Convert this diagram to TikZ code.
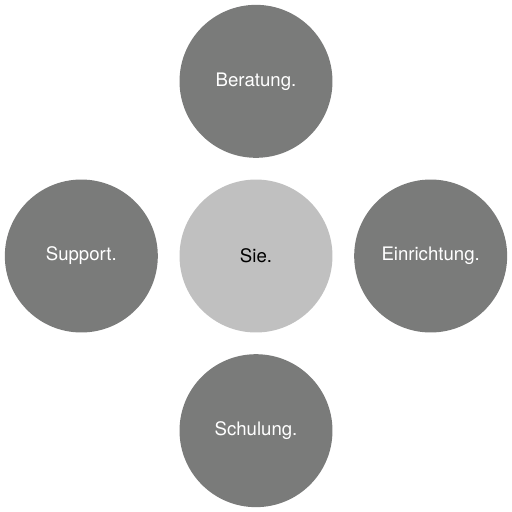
\documentclass[tikz,border=0pt]{standalone}
\usepackage{fontspec}
\setmainfont{TeX Gyre Heros}
\usepackage{tikz}
\usetikzlibrary{positioning}
\definecolor{ringgray}{HTML}{7A7B7A}
\definecolor{hubgray}{HTML}{C0C0C0}

\begin{document}
\begin{tikzpicture}[
    x=0.02cm, y=-0.02cm,
    font=\fontsize{10.6}{12}\selectfont,
    bubble/.style={circle, minimum size=3.06cm, inner sep=0pt, align=center},
    service/.style={bubble, fill=ringgray, text=white},
    hub/.style={bubble, fill=hubgray, text=black}
]
\useasboundingbox (0,0) rectangle (512,512);

\node[hub] (sie) at (256,256) {Sie.};

\node[service, above=0.42cm of sie] (beratung) {Beratung.};
\node[service, below=0.42cm of sie] (schulung) {Schulung.};
\node[service, left=0.42cm of sie] (support) {Support.};
\node[service, right=0.42cm of sie] (einrichtung) {Einrichtung.};
\end{tikzpicture}
\end{document}
